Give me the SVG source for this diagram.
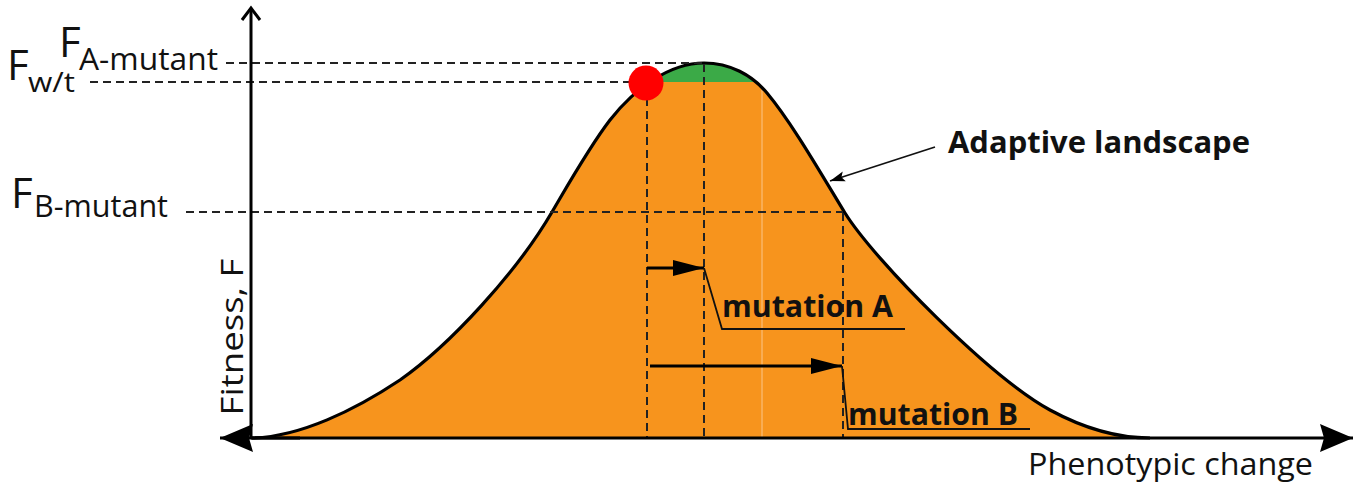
<svg xmlns="http://www.w3.org/2000/svg" width="1362" height="487" viewBox="0 0 1362 487">
<style>
text{font-family:"Open Sans","Noto Sans","Liberation Sans",sans-serif;fill:#111}
.lab{font-size:31px}
.big{font-size:42px}
.bold{font-weight:bold}
.dash{stroke:#222;stroke-width:2;stroke-dasharray:8 5;fill:none}
.axis{stroke:#000;stroke-width:3;fill:none}
.lead{stroke:#111;stroke-width:1.8;fill:none}
.arr{stroke:#000;stroke-width:3;fill:none}
</style>
<defs>
<path id="curve" d="M252,438 C300,437 355,410 400,380 C450,345 517,272 552,212 C572,178 590,146 610,120 C635,88 670,63 704,63 C730,63 752,75 767,93 C792,123 820,172 845,213 C875,261 990,377 1050,410 C1085,429 1120,438 1150,438"/>
<clipPath id="topclip"><rect x="600" y="40" width="220" height="42"/></clipPath>
<marker id="axhead" markerUnits="userSpaceOnUse" markerWidth="34" markerHeight="30" refX="33" refY="15" orient="auto" viewBox="0 0 34 30"><path d="M0,1 L33,15 L0,29 L4,15 Z" fill="#000"/></marker>
<marker id="mhead" markerUnits="userSpaceOnUse" markerWidth="32" markerHeight="18" refX="31" refY="9" orient="auto" viewBox="0 0 32 18"><path d="M0,1 L31,9 L0,17 Z" fill="#000"/></marker>
<marker id="shead" markerUnits="userSpaceOnUse" markerWidth="16" markerHeight="12" refX="15" refY="6" orient="auto" viewBox="0 0 16 12"><path d="M0,1 L15,6 L0,11 L3,6 Z" fill="#000"/></marker>
</defs>

<g id="landscape">
<path d="M252,438 C300,437 355,410 400,380 C450,345 517,272 552,212 C572,178 590,146 610,120 C635,88 670,63 704,63 C730,63 752,75 767,93 C792,123 820,172 845,213 C875,261 990,377 1050,410 C1085,429 1120,438 1150,438 Z" fill="#F7941D"/>
<use href="#curve" fill="#3BAA47" clip-path="url(#topclip)"/>
<line x1="762" y1="90" x2="762" y2="437" stroke="#FBC58A" stroke-width="1"/>
<use href="#curve" fill="none" stroke="#000" stroke-width="3.2"/>
</g>

<g id="guides">
<line class="dash" x1="226" y1="63" x2="704" y2="63"/>
<line class="dash" x1="90" y1="82" x2="632" y2="82"/>
<line class="dash" x1="186" y1="212" x2="843" y2="212"/>
<line class="dash" x1="647" y1="98" x2="647" y2="438"/>
<line class="dash" x1="704" y1="64" x2="704" y2="438"/>
<line class="dash" x1="843" y1="213" x2="843" y2="438"/>
</g>

<g id="wildtype-dot">
<circle cx="646" cy="83" r="17.5" fill="#FF0000"/>
</g>

<g id="axes">
<line class="axis" x1="251" y1="438" x2="251" y2="9"/>
<path class="axis" d="M242,20 L251,8 L260,20" stroke-width="2.6" stroke-linejoin="miter"/>
<line class="axis" x1="251" y1="438" x2="1353" y2="438" marker-end="url(#axhead)"/>
<line class="axis" x1="300" y1="438" x2="220" y2="438" marker-end="url(#axhead)"/>
</g>

<g id="connectors">
<line class="arr" x1="647" y1="268" x2="704" y2="268" marker-end="url(#mhead)"/>
<polyline class="lead" points="704,268 722,329 905,329"/>
<line class="arr" x1="650" y1="366" x2="842" y2="366" marker-end="url(#mhead)"/>
<polyline class="lead" points="842,366 848,429 1030,429"/>
<line class="lead" x1="935" y1="147" x2="830" y2="181" marker-end="url(#shead)"/>
</g>

<g id="labels">
<text class="big" x="7" y="80">F</text>
<text x="28" y="92" font-size="28" textLength="47" lengthAdjust="spacingAndGlyphs">w/t</text>
<text class="big" x="59" y="57" font-size="43">F</text>
<text class="lab" x="79" y="70" textLength="139" lengthAdjust="spacingAndGlyphs">A-mutant</text>
<text class="big" x="11" y="208">F</text>
<text class="lab" x="34" y="217" font-size="32" textLength="134" lengthAdjust="spacingAndGlyphs">B-mutant</text>
<text class="lab" transform="translate(243,337) rotate(-90)" text-anchor="middle" font-size="32" textLength="157" lengthAdjust="spacingAndGlyphs">Fitness, F</text>
<text class="lab" x="1028" y="475" font-size="30" textLength="285" lengthAdjust="spacingAndGlyphs">Phenotypic change</text>
<text class="lab bold" x="948" y="153" font-size="30" textLength="302" lengthAdjust="spacingAndGlyphs">Adaptive landscape</text>
<text class="lab bold" x="722" y="317" textLength="171" lengthAdjust="spacingAndGlyphs">mutation A</text>
<text class="lab bold" x="848" y="425" textLength="170" lengthAdjust="spacingAndGlyphs">mutation B</text>
</g>
</svg>
